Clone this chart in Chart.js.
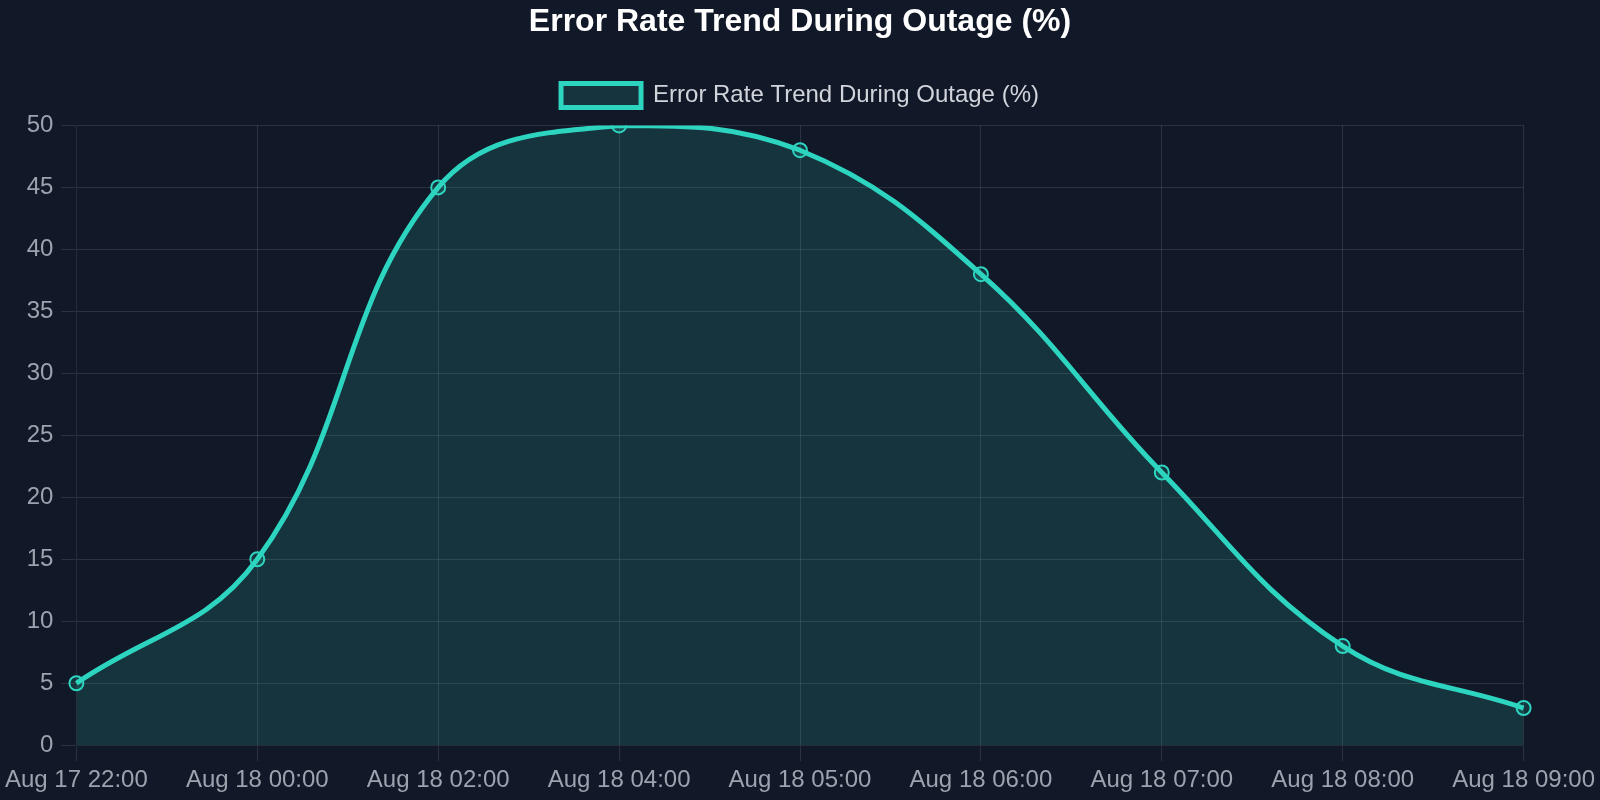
<!DOCTYPE html>
<html>
<head>
<meta charset="utf-8">
<script src="https://cdn.jsdelivr.net/npm/chart.js@4/dist/chart.umd.min.js"></script>
<style>
  html, body { margin: 0; padding: 0; background: #111827; }
  #wrap { width: 1600px; height: 800px; }
</style>
</head>
<body>
<div id="wrap"><canvas id="chart"></canvas></div>
<script>
const labels = [
    "Aug 17 22:00", "Aug 18 00:00", "Aug 18 02:00", "Aug 18 04:00",
    "Aug 18 05:00", "Aug 18 06:00", "Aug 18 07:00", "Aug 18 08:00", "Aug 18 09:00",
];
const errorRate = [5, 15, 45, 50, 48, 38, 22, 8, 3];
const seriesName = "Error Rate Trend During Outage (%)";

const teal = "#2dd4bf";
const gridColor = "rgba(255, 255, 255, 0.11)";

Chart.defaults.font.family = "'Liberation Sans', Arial, sans-serif";

// extra room between the legend and the plot area
const legendMargin = {
    id: "legendMargin",
    beforeInit(chart) {
        const fit = chart.legend.fit;
        chart.legend.fit = function () {
            fit.bind(this)();
            this.height += 8;
        };
    },
};

const ctx = document.getElementById("chart");
new Chart(ctx, {
    type: "line",
    data: {
        labels: labels,
        datasets: [{
            label: seriesName,
            data: errorRate,
            borderColor: teal,
            backgroundColor: "rgba(45, 212, 191, 0.15)",
            borderWidth: 5,
            fill: true,
            tension: 0.4,
            pointRadius: 7,
            pointBorderWidth: 2,
            pointBackgroundColor: "rgba(45, 212, 191, 0.15)",
            pointBorderColor: teal,
        }],
    },
    plugins: [legendMargin],
    options: {
        responsive: true,
        maintainAspectRatio: false,
        animation: false,
        layout: { padding: { top: 3, left: 7, right: 7, bottom: 0 } },
        scales: {
            x: {
                grid: { color: gridColor, tickLength: 16 },
                ticks: { color: "#9ca3af", font: { size: 24 }, maxRotation: 0, padding: 5 },
            },
            y: {
                min: 0,
                max: 50,
                grid: { color: gridColor, tickLength: 15 },
                ticks: { color: "#9ca3af", font: { size: 24 }, stepSize: 5, padding: 8 },
            },
        },
        plugins: {
            title: {
                display: true,
                text: seriesName,
                color: "#ffffff",
                font: { size: 32, weight: "bold" },
                padding: { top: 0, bottom: 18 },
            },
            legend: {
                display: true,
                position: "top",
                labels: { color: "#d1d5db", font: { size: 24 }, boxWidth: 80, boxHeight: 24, padding: 24 },
            },
        },
    },
});
</script>
</body>
</html>
